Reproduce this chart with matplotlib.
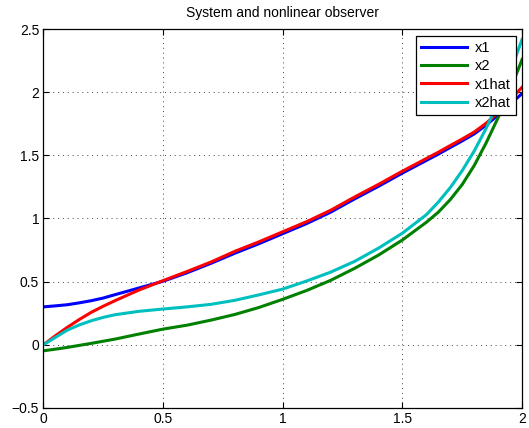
import matplotlib
matplotlib.use("Agg")
import matplotlib.pyplot as plt

plt.rcParams["font.family"] = ["Liberation Sans", "DejaVu Sans"]

# ------------------------------------------------------------
# data
# ------------------------------------------------------------
t = [0, 0.05, 0.1, 0.15, 0.2, 0.25, 0.3, 0.4, 0.5, 0.6, 0.7, 0.8, 0.9,
     1.0, 1.1, 1.2, 1.3, 1.4, 1.5, 1.6, 1.65, 1.7, 1.75, 1.8, 1.85,
     1.9, 1.95, 2.0]

x1 = [0.30, 0.308, 0.317, 0.332, 0.349, 0.37, 0.397, 0.45, 0.503, 0.57,
      0.645, 0.725, 0.80, 0.88, 0.96, 1.05, 1.155, 1.255, 1.36, 1.46,
      1.51, 1.563, 1.615, 1.67, 1.74, 1.82, 1.905, 1.99]

x2 = [-0.048, -0.035, -0.021, -0.005, 0.011, 0.028, 0.045, 0.085, 0.124,
      0.155, 0.195, 0.24, 0.295, 0.36, 0.43, 0.51, 0.605, 0.71, 0.83,
      0.97, 1.05, 1.15, 1.27, 1.42, 1.60, 1.80, 2.02, 2.26]

x1hat = [0.0, 0.071, 0.138, 0.20, 0.257, 0.305, 0.35, 0.434, 0.508, 0.58,
         0.655, 0.74, 0.815, 0.895, 0.975, 1.065, 1.17, 1.27, 1.375, 1.475,
         1.525, 1.578, 1.63, 1.685, 1.755, 1.84, 1.94, 2.04]

x2hat = [0.0, 0.058, 0.116, 0.157, 0.19, 0.217, 0.238, 0.265, 0.283, 0.30,
         0.32, 0.352, 0.395, 0.441, 0.505, 0.575, 0.66, 0.765, 0.884, 1.03,
         1.13, 1.245, 1.38, 1.535, 1.715, 1.925, 2.16, 2.42]

series = [("x1", x1, (0, 0, 1)),
          ("x2", x2, (0, 0.5, 0)),
          ("x1hat", x1hat, (1, 0, 0)),
          ("x2hat", x2hat, (0, 0.75, 0.75))]

# ------------------------------------------------------------
# plot
# ------------------------------------------------------------
fig = plt.figure(figsize=(5.29, 4.28), dpi=100)
ax = fig.add_axes([0.082, 0.047, 0.905, 0.885])

for nome, y, cor in series:
    ax.plot(t, y, color=cor, linewidth=2.2, label=nome)

ax.set_xlim(0, 2)
ax.set_ylim(-0.5, 2.5)
ax.set_xticks([0, 0.5, 1, 1.5, 2])
ax.set_xticklabels(["0", "0.5", "1", "1.5", "2"])
ax.set_yticks([-0.5, 0, 0.5, 1, 1.5, 2, 2.5])
ax.set_yticklabels(["\u22120.5", "0", "0.5", "1", "1.5", "2", "2.5"])

ax.grid(True, linestyle=(0, (1, 4)), color="#444444", linewidth=0.7)
ax.tick_params(direction="in", top=True, right=True, length=4,
               labelsize=10, pad=3, width=0.8)
for s in ax.spines.values():
    s.set_linewidth(0.9)

ax.set_title("System and nonlinear observer", fontsize=10, pad=9)

leg = ax.legend(loc="upper right", fontsize=10.5, handlelength=3.2,
                fancybox=False, framealpha=1, edgecolor="black",
                borderaxespad=0.45, labelspacing=0.3, handletextpad=0.5,
                borderpad=0.35)
leg.get_frame().set_linewidth(0.9)

fig.savefig("out.png", dpi=100)
plt.close(fig)
